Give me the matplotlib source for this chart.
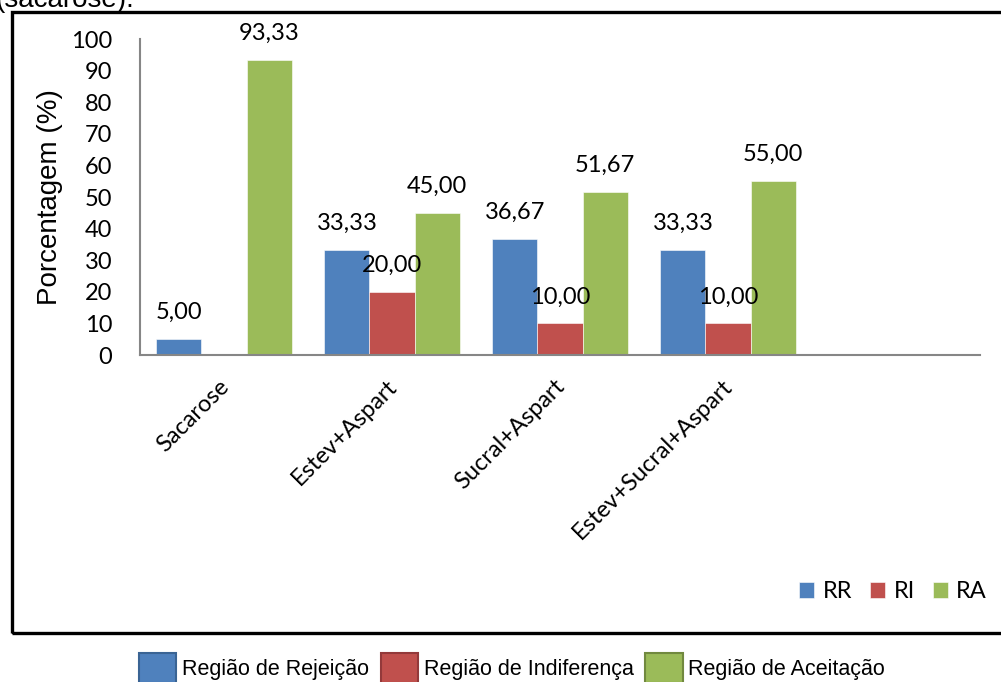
import matplotlib
matplotlib.use("Agg")
import matplotlib.pyplot as plt
from matplotlib.patches import Rectangle, Patch
from matplotlib.transforms import ScaledTranslation
import numpy as np

# Sweetener formulations and the share of answers in each region of the scale
categories = ["Sacarose", "Estev+Aspart", "Sucral+Aspart", "Estev+Sucral+Aspart", ""]
rr = [5.00, 33.33, 36.67, 33.33, None]   # Região de Rejeição
ri = [0.00, 20.00, 10.00, 10.00, None]   # Região de Indiferença
ra = [93.33, 45.00, 51.67, 55.00, None]  # Região de Aceitação
series_short = ["RR", "RI", "RA"]
series_long = ["Região de Rejeição", "Região de Indiferença", "Região de Aceitação"]
colors = ["#4F81BD", "#C0504D", "#9BBB59"]
edge_colors = ["#3A6494", "#93393A", "#71893F"]
yticks = list(range(0, 101, 10))

W, H = 1001, 682
fig = plt.figure(figsize=(W / 100, H / 100), dpi=100)
ax = fig.add_axes([140 / W, 1 - 355 / H, 840 / W, 316 / H])

calibri = "Lato"
arial = "Liberation Sans"
fs = 17

x = np.arange(len(categories))
bw = 0.268
for k, (vals, c, lab) in enumerate(zip([rr, ri, ra], colors, series_short)):
    xs = [xi + (k - 1) * bw for xi, v in zip(x, vals) if v is not None]
    vs = [v for v in vals if v is not None]
    ax.bar(xs, vs, width=bw, color=c, label=lab, edgecolor="white",
           linewidth=0.4, zorder=2)
    for xi, v in zip(xs, vs):
        if v == 0:
            continue
        ax.annotate(f"{v:.2f}".replace(".", ","), (xi, v), xytext=(0, 19),
                    textcoords="offset points", ha="center", va="center",
                    fontsize=fs, family=calibri, color="black")

ax.set_xlim(-0.5, len(categories) - 0.5)
ax.set_ylim(0, 100)
ax.set_yticks(yticks)
ax.set_yticklabels([str(t) for t in yticks], fontsize=fs, family=calibri)
ax.set_xticks(x)
ax.set_xticklabels(categories, rotation=45, ha="right", rotation_mode="anchor",
                   fontsize=fs, family=calibri)
ax.tick_params(axis="y", length=0, pad=20)
ax.tick_params(axis="x", length=0, pad=15)
shift = ScaledTranslation(-6 / 100, 0, fig.dpi_scale_trans)
for lbl in ax.get_xticklabels():
    lbl.set_transform(lbl.get_transform() + shift)
for s in ["top", "right"]:
    ax.spines[s].set_visible(False)
for s in ["left", "bottom"]:
    ax.spines[s].set_color("#868686")
    ax.spines[s].set_linewidth(1.5)
ax.set_ylabel("Porcentagem (%)", fontsize=20, family=arial, labelpad=6)

ax.legend(loc="center", bbox_to_anchor=(893 / W, 1 - 592 / H),
          bbox_transform=fig.transFigure, ncol=3, frameon=False,
          prop={"family": calibri, "size": fs}, handlelength=0.65,
          handleheight=0.65, handletextpad=0.35, columnspacing=0.75)

# Chart frame
fig.patches.append(Rectangle((12 / W, 1 - 633 / H), 1010 / W, 621 / H,
                             transform=fig.transFigure, fill=False,
                             edgecolor="black", linewidth=2.4, zorder=5))

# Caption fragment above the frame
fig.text(134 / W, 1 - 7 / H, "(sacarose).", ha="right", va="baseline",
         fontsize=20, family=arial)

# Region legend below the frame
handles = [Patch(facecolor=c, edgecolor=e, linewidth=1.5)
           for c, e in zip(colors, edge_colors)]
fig.legend(handles, series_long, loc="center",
           bbox_to_anchor=(512 / W, 1 - 668 / H), ncol=3, frameon=False,
           prop={"family": arial, "size": 15.5}, handlelength=1.75,
           handleheight=1.8, handletextpad=0.25, columnspacing=0.55)

fig.savefig("out.png", dpi=100)
